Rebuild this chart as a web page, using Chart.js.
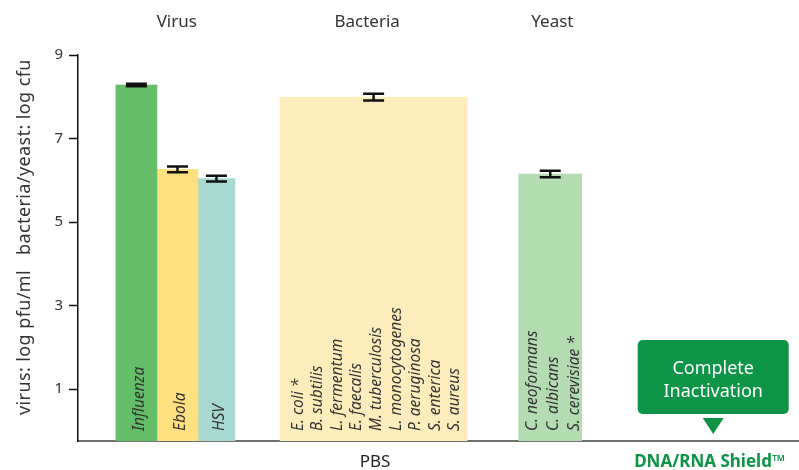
<!DOCTYPE html>
<html>
<head>
<meta charset="utf-8">
<script src="https://cdn.jsdelivr.net/npm/chart.js@4/dist/chart.umd.min.js"></script>
<style>
  html, body { margin: 0; padding: 0; background: #fff; }
  #wrap { width: 799px; height: 470px; position: relative; }
</style>
</head>
<body>
<div id="wrap"><canvas id="chart"></canvas></div>
<script>
// values (log units)
const groupNames = ['Virus', 'Bacteria', 'Yeast'];
const groupLabelPos = [13.7, 40.1, 65.8];
const bottomLabels = ['PBS', 'DNA/RNA Shield\u2122'];
const bottomLabelPos = [41.2, 87.6];
const shieldPos = 88.1;

const virusNames = ['Influenza', 'Ebola', 'HSV'];
const virusPos = [8.1, 13.8, 19.2];
const virusValues = [8.28, 6.26, 6.04];
const virusErrors = [0.03, 0.07, 0.07];

const bacteriaNames = ['E. coli *', 'B. subtilis', 'L. fermentum', 'E. faecalis', 'M. tuberculosis',
  'L. monocytogenes', 'P. aeruginosa', 'S. enterica', 'S. aureus'];
const bacteriaPos = [41.0];
const bacteriaValues = [7.99];
const bacteriaErrors = [0.08];

const yeastNames = ['C. neoformans', 'C. albicans', 'S. cerevisiae *'];
const yeastPos = [65.5];
const yeastValues = [6.15];
const yeastErrors = [0.08];

const yTicks = [1, 3, 5, 7, 9];
const yMin = -0.245, yMax = 9;

const FONT = '"Noto Sans", "Open Sans", sans-serif';
const TEXT = '#333333';

const pts = (pos, vals) => pos.map((x, i) => ({ x, y: vals[i] }));

const datasets = [
  { label: 'Influenza', data: pts([virusPos[0]], [virusValues[0]]), err: [virusErrors[0]], backgroundColor: '#63bd69', barThickness: 41 },
  { label: 'Ebola', data: pts([virusPos[1]], [virusValues[1]]), err: [virusErrors[1]], backgroundColor: '#fde07f', barThickness: 41 },
  { label: 'HSV', data: pts([virusPos[2]], [virusValues[2]]), err: [virusErrors[2]], backgroundColor: '#a7d9d0', barThickness: 37 },
  { label: 'Bacteria', data: pts(bacteriaPos, bacteriaValues), err: bacteriaErrors, backgroundColor: '#feedbc', barThickness: 187 },
  { label: 'Yeast', data: pts(yeastPos, yeastValues), err: yeastErrors, backgroundColor: '#b3dcb1', barThickness: 63 }
];

const barText = [[virusNames[0]], [virusNames[1]], [virusNames[2]], bacteriaNames, yeastNames];
const lineGap = [0, 0, 0, 19.6, 21];

// error bars + labels written inside the bars
const extras = {
  id: 'extras',
  afterDatasetsDraw(chart) {
    const ctx = chart.ctx;
    const y = chart.scales.y;
    const area = chart.chartArea;
    chart.data.datasets.forEach((ds, di) => {
      const meta = chart.getDatasetMeta(di);
      meta.data.forEach((bar, i) => {
        const v = ds.data[i].y, e = ds.err[i];
        const yt = y.getPixelForValue(v + e), yb = y.getPixelForValue(v - e);
        ctx.save();
        ctx.strokeStyle = '#111';
        ctx.lineWidth = 2.5;
        ctx.beginPath();
        ctx.moveTo(bar.x - 10.5, yt); ctx.lineTo(bar.x + 10.5, yt);
        ctx.moveTo(bar.x - 10.5, yb); ctx.lineTo(bar.x + 10.5, yb);
        ctx.moveTo(bar.x, yt); ctx.lineTo(bar.x, yb);
        ctx.stroke();
        ctx.restore();

        // rotated italic names
        const names = barText[di];
        const gap = lineGap[di];
        const x0 = bar.x + 3 - gap * (names.length - 1) / 2;
        ctx.save();
        ctx.fillStyle = TEXT;
        ctx.font = 'italic 15.5px ' + FONT;
        ctx.textBaseline = 'middle';
        ctx.textAlign = 'left';
        names.forEach((n, k) => {
          ctx.save();
          ctx.translate(x0 + k * gap, area.bottom - 10);
          ctx.rotate(-Math.PI / 2);
          ctx.fillText(n, 0, 0);
          ctx.restore();
        });
        ctx.restore();
      });
    });

    // y axis title in two parts
    ctx.save();
    ctx.fillStyle = TEXT;
    ctx.font = '18px ' + FONT;
    ctx.letterSpacing = '0.4px';
    ctx.textBaseline = 'middle';
    ctx.textAlign = 'left';
    ctx.translate(25, area.bottom - 26);
    ctx.rotate(-Math.PI / 2);
    ctx.fillText('virus: log pfu/ml', 0, 0);
    ctx.fillText('bacteria/yeast: log cfu', 160, 0);
    ctx.restore();

    // "Complete Inactivation" callout
    const cx = chart.scales.x.getPixelForValue(shieldPos);
    const bw = 151, bh = 74, by = area.bottom - 101;
    ctx.save();
    ctx.fillStyle = '#0e9447';
    ctx.beginPath();
    ctx.roundRect(cx - bw / 2, by, bw, bh, 5);
    ctx.fill();
    ctx.beginPath();
    ctx.moveTo(cx - 10.5, area.bottom - 23);
    ctx.lineTo(cx + 10.5, area.bottom - 23);
    ctx.lineTo(cx, area.bottom - 7);
    ctx.closePath();
    ctx.fill();
    ctx.fillStyle = '#fff';
    ctx.font = '18px ' + FONT;
    ctx.textAlign = 'center';
    ctx.textBaseline = 'middle';
    ctx.fillText('Complete', cx, by + 29);
    ctx.fillText('Inactivation', cx, by + 52);
    ctx.restore();
  }
};

new Chart(document.getElementById('chart'), {
  type: 'bar',
  data: { datasets },
  options: {
    responsive: true,
    maintainAspectRatio: false,
    animation: false,
    layout: { padding: 0 },
    datasets: { bar: { grouped: false, base: yMin } },
    plugins: { legend: { display: false }, tooltip: { enabled: false } },
    scales: {
      x: {
        type: 'linear', position: 'bottom', min: 0, max: 100, offset: false,
        afterFit: s => { s.height = 29; },
        afterBuildTicks: s => { s.ticks = bottomLabelPos.map(v => ({ value: v })); },
        grid: { display: false },
        border: { display: true, color: '#6f6f6f', width: 2 },
        ticks: {
          autoSkip: false, maxRotation: 0, padding: 3,
          callback: (v, i) => bottomLabels[i],
          color: c => c.index === 1 ? '#0e9447' : '#222',
          font: c => c.index === 1 ? { family: FONT, size: 17, weight: 'bold' } : { family: FONT, size: 17 }
        }
      },
      xTop: {
        type: 'linear', position: 'top', min: 0, max: 100, offset: false,
        afterFit: s => { s.height = 55; },
        afterBuildTicks: s => { s.ticks = groupLabelPos.map(v => ({ value: v })); },
        grid: { display: false },
        border: { display: false },
        ticks: {
          autoSkip: false, maxRotation: 0, padding: 15,
          callback: (v, i) => groupNames[i],
          color: TEXT, font: { family: FONT, size: 17 }
        }
      },
      y: {
        min: yMin, max: yMax,
        afterFit: s => { s.width = 78; },
        afterBuildTicks: s => { s.ticks = yTicks.map(v => ({ value: v })); },
        grid: { display: true, drawOnChartArea: false, tickLength: 9, tickColor: '#111', tickWidth: 1.5 },
        border: { display: true, color: '#111', width: 1.5 },
        ticks: { padding: 6, color: TEXT, font: { family: FONT, size: 15 } }
      }
    }
  },
  plugins: [extras]
});
</script>
</body>
</html>
